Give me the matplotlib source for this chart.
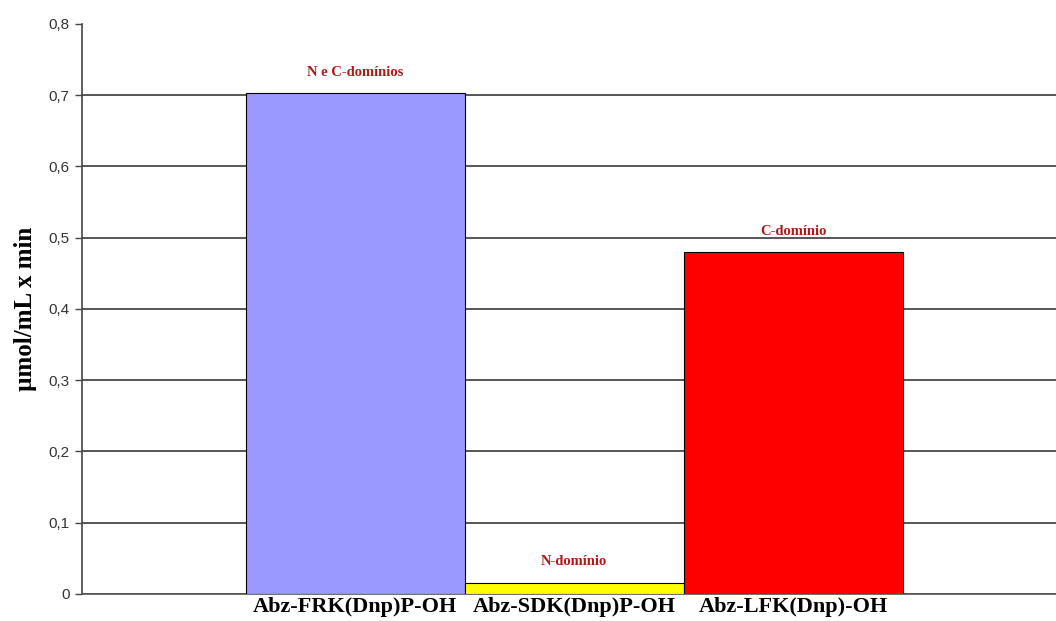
import matplotlib
matplotlib.use("Agg")
import matplotlib.pyplot as plt

# Data
substrates = ['Abz-FRK(Dnp)P-OH', 'Abz-SDK(Dnp)P-OH', 'Abz-LFK(Dnp)-OH']
rates = [0.703, 0.016, 0.48]
domain_labels = ['N e C-domínios', 'N-domínio', 'C-domínio']
bar_colors = ['#9999FF', '#FFFF00', '#FF0000']
y_ticks = [0.0, 0.1, 0.2, 0.3, 0.4, 0.5, 0.6, 0.7, 0.8]
y_tick_labels = ['0', '0,1', '0,2', '0,3', '0,4', '0,5', '0,6', '0,7', '0,8']

fig = plt.figure(figsize=(10.56, 6.21), dpi=100)
ax = fig.add_axes([0.0777, 0.0435, 0.9223, 0.918])

x = list(range(len(substrates)))
ax.bar(x, rates, width=1.0, color=bar_colors, edgecolor='black', linewidth=0.8, zorder=3)

# Labels above the bars
for xi, val, lab in zip(x, rates, domain_labels):
    ax.annotate(lab, (xi, val), xytext=(0, 15), textcoords='offset points',
                ha='center', va='center', fontsize=10.5, fontweight='bold',
                family='Liberation Serif', color='#B01818')

ax.set_xlim(-1.247, 3.2)
ax.set_ylim(0, 0.8)
ax.set_yticks(y_ticks)
ax.set_yticklabels(y_tick_labels, family='Liberation Sans', fontsize=11, color='#333333')
ax.set_xticks(x)
ax.set_xticklabels(substrates, family='Liberation Serif', fontsize=16, fontweight='bold')
ax.tick_params(axis='x', length=0, pad=2)
ax.tick_params(axis='y', length=5, width=1, color='#444444', pad=4)

ax.yaxis.grid(True, color='#3a3a3a', linewidth=1.2, zorder=0)
ax.set_axisbelow(True)
# no gridline at the top value
ax.get_ygridlines()[-1].set_visible(False)

for side in ['top', 'right']:
    ax.spines[side].set_visible(False)
ax.spines['left'].set_color('#444444')
ax.spines['bottom'].set_color('#555555')
ax.spines['left'].set_linewidth(1.2)
ax.spines['bottom'].set_linewidth(1.2)

ax.set_ylabel('µmol/mL x min', family='Liberation Serif', fontsize=18, fontweight='bold', labelpad=8)

plt.savefig('out.png', dpi=100)
